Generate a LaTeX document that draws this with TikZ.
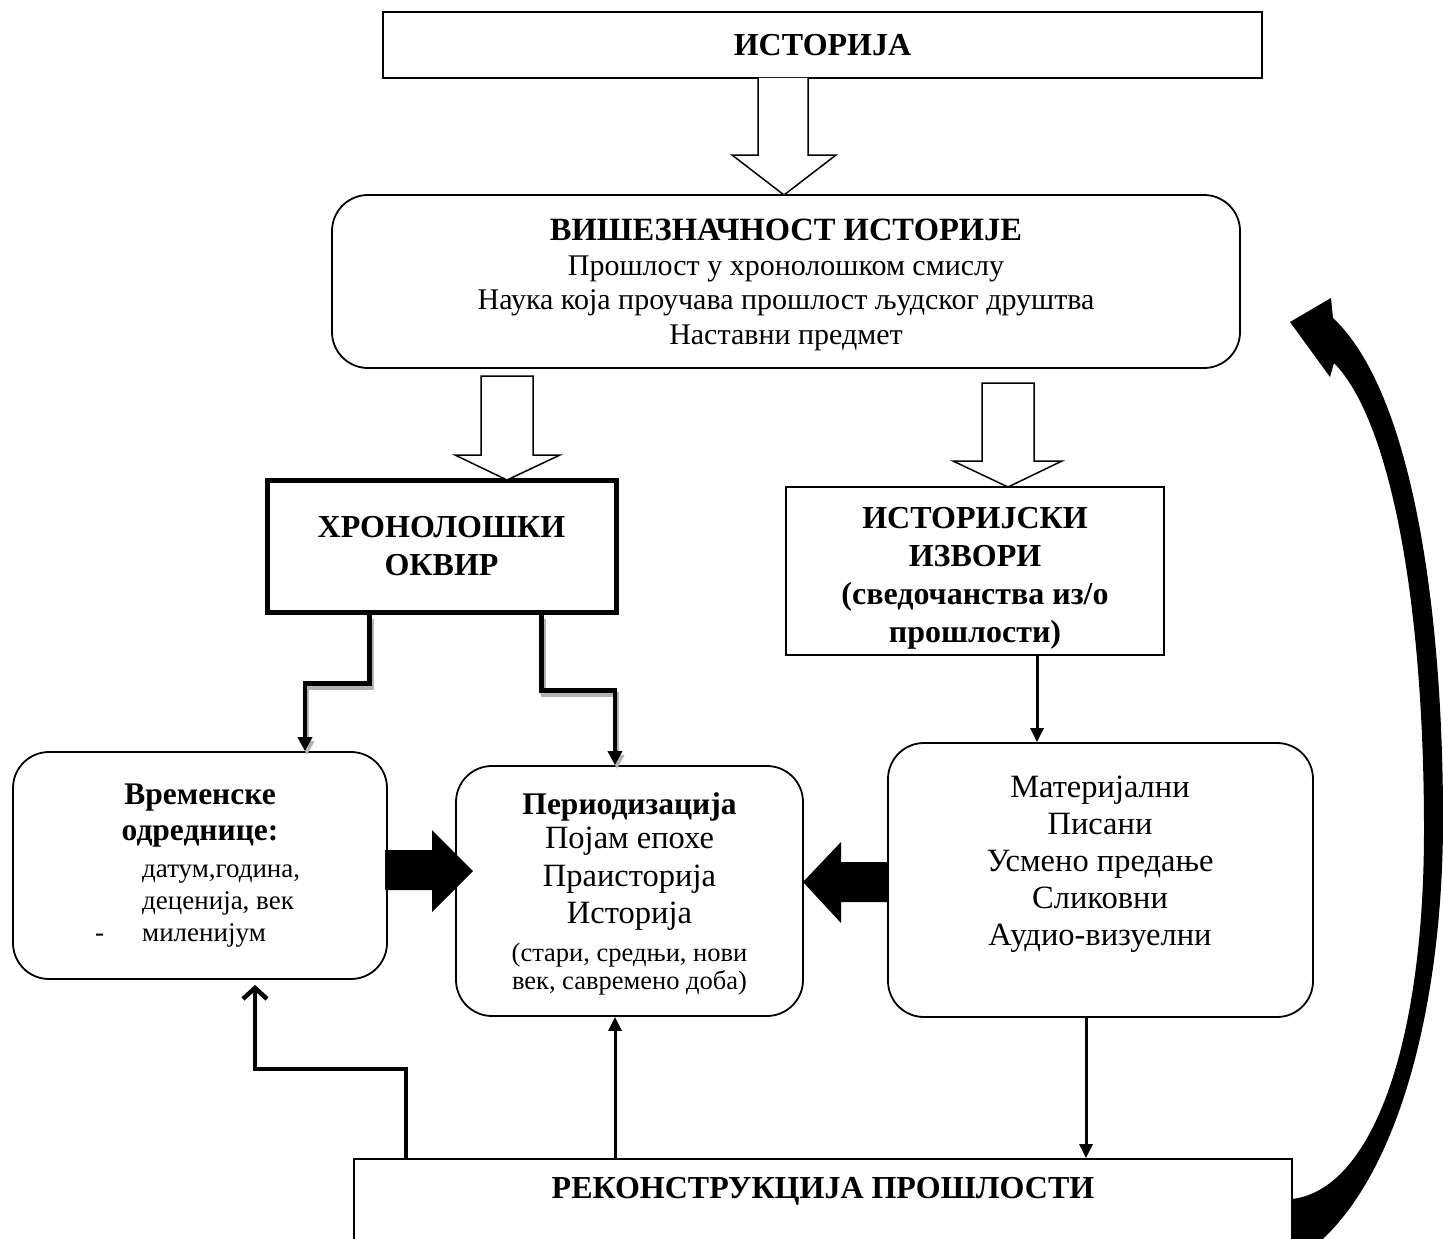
\documentclass[tikz,border=0pt]{standalone}
\usepackage{fontspec}
\setmainfont{Liberation Serif}
\usetikzlibrary{arrows.meta,calc}
\begin{document}
\begin{tikzpicture}[x=1pt,y=-1pt,
 box/.style={draw, line width=1.8pt, inner sep=0pt, align=center},
 rbox/.style={box, rounded corners=36pt},
 conn/.style={line width=3pt, -{Triangle[length=14pt,width=13pt]}},
 thickconn/.style={line width=4.5pt, -{Triangle[length=14pt,width=14pt]}},
 barbconn/.style={line width=4.5pt, -{Straight Barb[length=11pt,width=24pt]}},
 shadowline/.style={line width=4.5pt, draw=black!30, -{Triangle[length=14pt,width=14pt]}},
 hollow/.style={draw, fill=white, line width=1.5pt, line join=miter},
 hd/.style={font=\fontsize{32}{38}\selectfont\bfseries, align=center, inner sep=0pt},
 txt/.style={font=\fontsize{30}{34.5}\selectfont, align=center, inner sep=0pt}]
\useasboundingbox (0,0) rectangle (1443,1239);
\fill[white] (0,0) rectangle (1443,1239);
\clip (0,0) rectangle (1443,1239);

% boxes
\node[box, minimum width=879pt, minimum height=66pt, hd] (top) at (822.5,45) {ИСТОРИЈА};
\node[rbox, minimum width=908pt, minimum height=173pt] (mult) at (786,281.5) {};
\node[txt] (multtext) at (786,285)
  {{\bfseries\fontsize{32.5}{36}\selectfont ВИШЕЗНАЧНОСТ ИСТОРИЈЕ}\\Прошлост у хронолошком смислу\\Наука која проучава прошлост људског друштва\\Наставни предмет};
\node[box, line width=5pt, minimum width=349pt, minimum height=132pt, hd] (chron) at (441.5,546) {ХРОНОЛОШКИ\\ОКВИР};
\node[box, minimum width=378pt, minimum height=168pt] (src) at (975,571) {};
\node[hd] (srctext) at (975,578) {ИСТОРИЈСКИ\\ИЗВОРИ\\(сведочанства из/о\\прошлости)};

\node[rbox, minimum width=374pt, minimum height=227pt] (vrem) at (200,865.5) {};
\node[hd, font=\fontsize{31.5}{36}\selectfont\bfseries] (vremtitle) at (200,816) {Временске\\одреднице:};
\node[anchor=west, align=left, inner sep=0pt, font=\fontsize{27}{32}\selectfont] (vremlist) at (95,906)
  {\hspace*{47pt}датум,година,\\\hspace*{47pt}деценија, век\\\makebox[47pt][l]{-}миленијум};

\node[rbox, minimum width=347pt, minimum height=250pt] (period) at (629.5,891) {};
\node[font=\fontsize{32.5}{37}\selectfont, align=center, inner sep=0pt] (periodtext) at (629.5,894)
  {{\bfseries\fontsize{31.5}{36}\selectfont Периодизација}\\[-3pt]Појам епохе\\[1pt]Праисторија\\Историја\\[1pt]{\fontsize{26.5}{28}\selectfont (стари, средњи, нови}\\[-9pt]{\fontsize{26.5}{28}\selectfont век, савремено доба)}};

\node[rbox, minimum width=425pt, minimum height=274pt] (mat) at (1100.5,880) {};
\node[align=center, inner sep=0pt, font=\fontsize{32.5}{37}\selectfont] (mattext) at (1100,864)
  {Материјални\\Писани\\Усмено предање\\Сликовни\\Аудио-визуелни};

\node[box, minimum width=938pt, minimum height=200pt] (recon) at (823,1259) {};
\node[hd] (recontext) at (823,1191) {РЕКОНСТРУКЦИЈА ПРОШЛОСТИ};

% hollow block arrows
\draw[hollow] (758,78) -- (758,155) -- (732,155) -- (784,195) -- (836,155) -- (808,155) -- (808,78);
\draw[hollow] (481,376) -- (481,455) -- (455,455) -- (507,480) -- (560,455) -- (533,455) -- (533,376) -- cycle;
\draw[hollow] (982,383) -- (982,461) -- (953,461) -- (1008,487) -- (1062,461) -- (1034,461) -- (1034,383) -- cycle;

% solid block arrows
\fill (385,850) -- (432,850) -- (432,830) -- (473,871) -- (432,912) -- (432,890) -- (385,890) -- cycle;
\fill (888,862) -- (841,862) -- (841,842) -- (803,882) -- (841,923) -- (841,902) -- (888,902) -- cycle;

% connectors from chronological frame (with shadow)
\begin{scope}[transform canvas={shift={(2pt,-4pt)}}]
\draw[shadowline] ([xshift=-72pt]chron.south) -- ++(0,69) -| ([xshift=105pt]vrem.north);
\draw[shadowline] ([xshift=100pt]chron.south) -- ++(0,76) -| ([xshift=-14.5pt]period.north);
\end{scope}
\draw[thickconn] ([xshift=-72pt]chron.south) -- ++(0,69) -| ([xshift=105pt]vrem.north);
\draw[thickconn] ([xshift=100pt]chron.south) -- ++(0,76) -| ([xshift=-14.5pt]period.north);

% sources
\draw[conn] ([xshift=62pt]src.south) -- ([xshift=62pt]src.south |- mat.north);
\draw[conn] ([xshift=-14.5pt]mat.south) -- ([xshift=-14.5pt]mat.south |- recon.north);

% reconstruction back to boxes
\draw[barbconn] ([xshift=-417pt]recon.north) -- ++(0,-89) -| ([xshift=55pt,yshift=-5pt]vrem.south);
\draw[conn] ([xshift=-208pt]recon.north) -- ([xshift=-208pt]recon.north |- period.south);

% big curved arrow
\fill (1331,298) -- (1290,322) -- (1330,377) -- (1334,363)
  .. controls (1390,420) and (1424,600) .. (1424,830)
  .. controls (1424,1050) and (1370,1190) .. (1292,1199)
  -- (1292,1260) -- (1310,1260) -- (1310,1250)
  .. controls (1400,1180) and (1443,1000) .. (1443,820)
  .. controls (1443,600) and (1410,390) .. (1333,318) -- cycle;
\end{tikzpicture}
\end{document}
